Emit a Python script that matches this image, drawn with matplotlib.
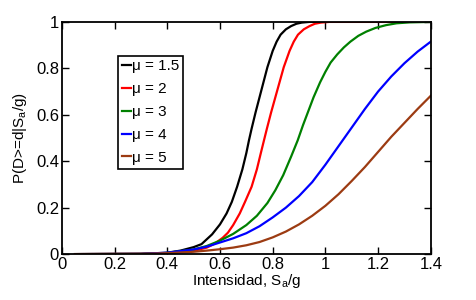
import numpy as np
import matplotlib
matplotlib.use('Agg')
import matplotlib.pyplot as plt

plt.rcParams['font.family'] = ['Liberation Sans', 'DejaVu Sans']
plt.rcParams['mathtext.default'] = 'regular'

# values
labels = ['\u03bc = 1.5', '\u03bc = 2', '\u03bc = 3', '\u03bc = 4', '\u03bc = 5']
colors = ['k', '#ff0000', '#008000', '#0000ff', '#9c3b12']

x_mu15 = [0.05, 0.3, 0.4, 0.45, 0.5, 0.53, 0.57, 0.6, 0.625, 0.645, 0.665, 0.685, 0.70, 0.71, 0.72,
          0.735, 0.75, 0.765, 0.78, 0.80, 0.815, 0.83, 0.85, 0.87, 0.89, 0.91, 0.94, 1.4]
p_mu15 = [0.0, 0.001, 0.006, 0.015, 0.03, 0.043, 0.085, 0.128, 0.175, 0.225, 0.29, 0.365, 0.435, 0.49, 0.54,
          0.61, 0.675, 0.74, 0.805, 0.875, 0.915, 0.945, 0.968, 0.982, 0.992, 0.997, 1.0, 1.0]

x_mu2 = [0.05, 0.3, 0.4, 0.5, 0.55, 0.58, 0.61, 0.63, 0.65, 0.675, 0.695, 0.72, 0.74, 0.755, 0.767,
         0.778, 0.794, 0.81, 0.826, 0.842, 0.864, 0.88, 0.896, 0.918, 0.94, 0.96, 0.983, 1.015, 1.4]
p_mu2 = [0.0, 0.001, 0.004, 0.014, 0.028, 0.045, 0.07, 0.092, 0.125, 0.175, 0.225, 0.29, 0.365, 0.435, 0.49,
         0.54, 0.61, 0.675, 0.74, 0.805, 0.875, 0.915, 0.945, 0.968, 0.982, 0.992, 0.997, 1.0, 1.0]

x_mu3 = [0.05, 0.3, 0.4, 0.5, 0.55, 0.6, 0.65, 0.7, 0.74, 0.78, 0.81, 0.84, 0.87, 0.895, 0.915, 0.935,
         0.955, 0.98, 1.0, 1.02, 1.045, 1.07, 1.095, 1.125, 1.155, 1.19, 1.23, 1.27, 1.32, 1.4]
p_mu3 = [0.0, 0.001, 0.005, 0.02, 0.035, 0.058, 0.087, 0.125, 0.165, 0.22, 0.275, 0.34, 0.42, 0.49, 0.555, 0.615,
         0.675, 0.74, 0.785, 0.825, 0.86, 0.89, 0.915, 0.94, 0.958, 0.974, 0.986, 0.994, 0.998, 1.0]

x_mu4 = [0.05, 0.3, 0.4, 0.5, 0.55, 0.6, 0.65, 0.7, 0.75, 0.8, 0.85, 0.9, 0.95, 1.0, 1.05,
         1.1, 1.15, 1.2, 1.25, 1.3, 1.35, 1.4]
p_mu4 = [0.0, 0.001, 0.006, 0.02, 0.032, 0.05, 0.068, 0.09, 0.12, 0.158, 0.2, 0.25, 0.31, 0.385, 0.465,
         0.545, 0.625, 0.7, 0.765, 0.822, 0.872, 0.915]

x_mu5 = [0.05, 0.3, 0.4, 0.5, 0.55, 0.6, 0.65, 0.7, 0.75, 0.8, 0.85, 0.9, 0.95, 1.0, 1.05,
         1.1, 1.15, 1.2, 1.25, 1.3, 1.35, 1.4]
p_mu5 = [0.0, 0.001, 0.004, 0.01, 0.015, 0.021, 0.028, 0.038, 0.052, 0.072, 0.097, 0.128, 0.165, 0.208, 0.258,
         0.315, 0.375, 0.44, 0.505, 0.565, 0.625, 0.682]

xs = [x_mu15, x_mu2, x_mu3, x_mu4, x_mu5]
ps = [p_mu15, p_mu2, p_mu3, p_mu4, p_mu5]

fig = plt.figure(figsize=(4.76, 3.0), dpi=100)
ax = fig.add_axes([0.130, 0.153, 0.775, 0.774])

for x, p, c, lab in zip(xs, ps, colors, labels):
    ax.plot(x, p, color=c, lw=1.6, label=lab)

ax.set_xlim(0, 1.4)
ax.set_ylim(0, 1)
ax.set_xticks(np.arange(0, 1.41, 0.2))
ax.set_xticklabels(['0', '0.2', '0.4', '0.6', '0.8', '1', '1.2', '1.4'])
ax.set_yticks(np.arange(0, 1.01, 0.2))
ax.set_yticklabels(['0', '0.2', '0.4', '0.6', '0.8', '1'])
ax.tick_params(direction='in', top=True, right=True, length=5, width=1.0,
               labelsize=12, pad=2)
for s in ax.spines.values():
    s.set_linewidth(1.3)

ax.set_xlabel('Intensidad, S$_a$/g', fontsize=11, labelpad=0)
ax.set_ylabel('P(D>=d|S$_a$/g)', fontsize=11, labelpad=5)

leg = ax.legend(loc='upper left', bbox_to_anchor=(0.153, 0.855), fontsize=11,
                handlelength=0.55, handletextpad=0.1, borderpad=0.25,
                labelspacing=0.58, borderaxespad=0, fancybox=False,
                edgecolor='k', framealpha=1)
leg.get_frame().set_linewidth(1.2)

fig.savefig('out.png', dpi=100)
